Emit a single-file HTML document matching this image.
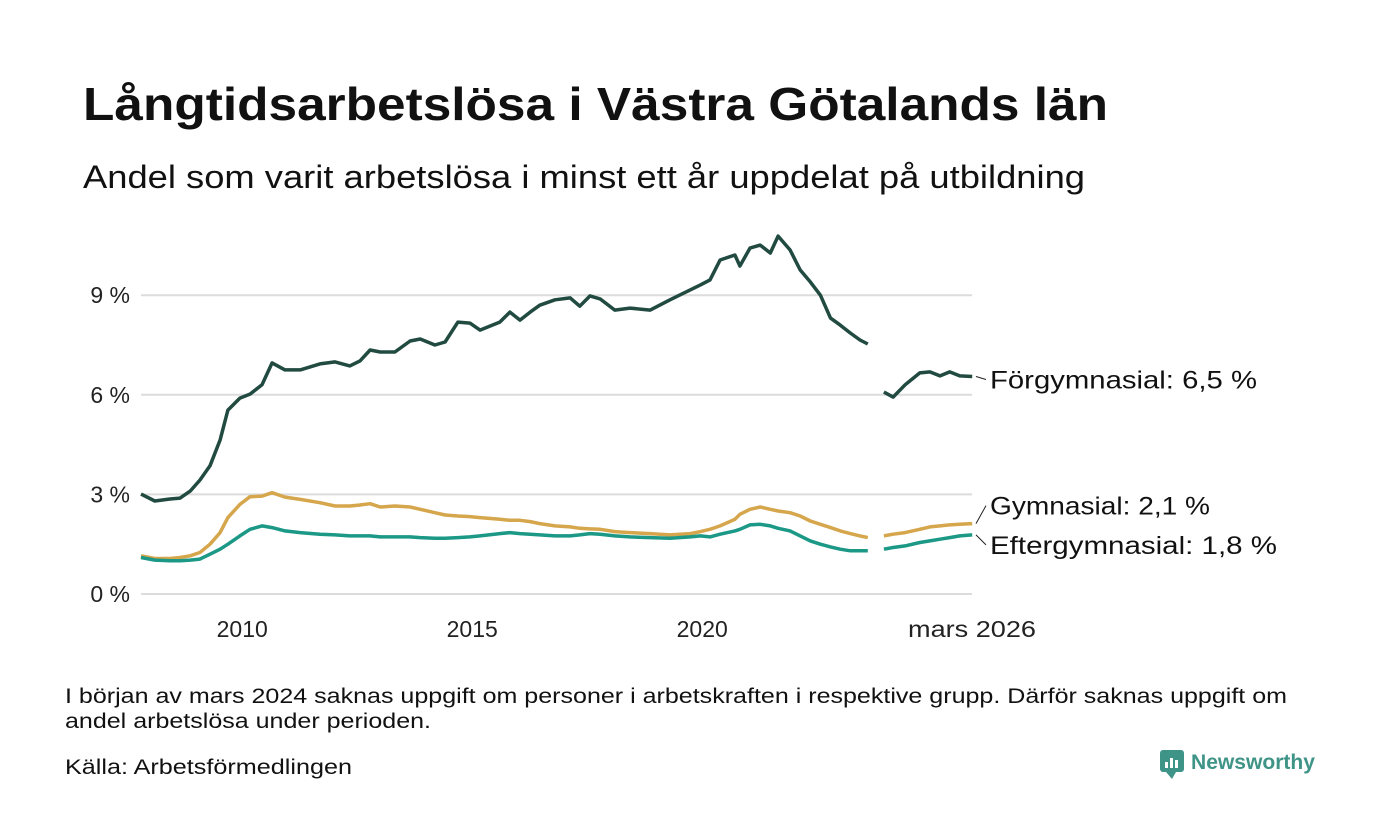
<!DOCTYPE html>
<html><head><meta charset="utf-8"><style>
body{margin:0;background:#fff}
svg{display:block;font-family:"Liberation Sans",sans-serif}
</style></head><body>
<svg width="1400" height="840" viewBox="0 0 1400 840">
<text x="83" y="120" font-size="46" font-weight="bold" fill="#111" textLength="1025" lengthAdjust="spacingAndGlyphs">Långtidsarbetslösa i Västra Götalands län</text>
<text x="83" y="188" font-size="32" fill="#111" textLength="1002" lengthAdjust="spacingAndGlyphs">Andel som varit arbetslösa i minst ett år uppdelat på utbildning</text>
<g id="grid"></g><g id="xaxis"></g><g id="lines"></g><g id="labels"></g>
<text x="65" y="703" font-size="21" fill="#111" textLength="1222" lengthAdjust="spacingAndGlyphs">I början av mars 2024 saknas uppgift om personer i arbetskraften i respektive grupp. Därför saknas uppgift om</text>
<text x="65" y="728" font-size="21" fill="#111" textLength="366" lengthAdjust="spacingAndGlyphs">andel arbetslösa under perioden.</text>
<text x="65" y="774" font-size="21" fill="#111" textLength="287" lengthAdjust="spacingAndGlyphs">Källa: Arbetsförmedlingen</text>
<g>
<rect x="1160" y="750" width="24" height="22" rx="3" fill="#3f9488"/>
<path d="M1166 772 L1172 779 L1176 772Z" fill="#3f9488"/>
<rect x="1165" y="762" width="3" height="6" fill="#fff"/><rect x="1170" y="758" width="3" height="10" fill="#fff"/><rect x="1175" y="760" width="3" height="8" fill="#fff"/>
<text x="1191" y="769" font-size="21" font-weight="bold" fill="#3f9488" textLength="124" lengthAdjust="spacingAndGlyphs">Newsworthy</text>
</g>
</svg>
<script>
const yTicks=[0,3,6,9];
const yTickLabels=["0 %","3 %","6 %","9 %"];
const xTicks=[2010,2015,2020,2026.17];
const xTickLabels=["2010","2015","2020","mars 2026"];
const years=[2007.80,2008.10,2008.43,2008.65,2008.87,2009.08,2009.30,2009.52,2009.69,2009.95,2010.17,2010.43,2010.65,2010.93,2011.26,2011.69,2012.02,2012.34,2012.56,2012.78,2013.00,2013.32,2013.65,2013.87,2014.19,2014.41,2014.69,2014.95,2015.17,2015.60,2015.82,2016.04,2016.26,2016.47,2016.80,2017.13,2017.34,2017.56,2017.78,2018.10,2018.43,2018.87,2019.30,2019.74,2019.96,2020.17,2020.39,2020.71,2020.82,2021.04,2021.26,2021.48,2021.65,2021.91,2022.13,2022.35,2022.57,2022.79,2023.00,2023.22,2023.43,2023.60,null,2023.95,2024.15,2024.41,2024.73,2024.95,2025.17,2025.38,2025.60,2025.87];
const forgymnasial=[3.01,2.80,2.86,2.89,3.10,3.43,3.86,4.64,5.54,5.90,6.02,6.30,6.96,6.75,6.75,6.93,6.99,6.87,7.02,7.35,7.29,7.29,7.62,7.68,7.50,7.59,8.19,8.16,7.95,8.19,8.49,8.25,8.49,8.70,8.86,8.92,8.67,8.98,8.89,8.55,8.61,8.55,8.86,9.16,9.31,9.46,10.06,10.21,9.88,10.42,10.51,10.27,10.78,10.36,9.76,9.40,9.0,8.31,8.10,7.86,7.65,7.53,null,6.08,5.93,6.30,6.66,6.69,6.57,6.69,6.57,6.55];
const gymnasial=[1.15,1.07,1.07,1.10,1.15,1.25,1.50,1.85,2.3,2.7,2.93,2.95,3.05,2.92,2.85,2.75,2.65,2.65,2.68,2.72,2.62,2.65,2.62,2.55,2.45,2.38,2.35,2.33,2.30,2.25,2.22,2.22,2.18,2.12,2.05,2.02,1.98,1.96,1.95,1.88,1.85,1.82,1.78,1.82,1.88,1.95,2.05,2.25,2.4,2.55,2.62,2.55,2.5,2.45,2.35,2.2,2.1,2.0,1.9,1.82,1.75,1.7,null,1.75,1.8,1.85,1.95,2.02,2.05,2.08,2.1,2.12];
const eftergymnasial=[1.1,1.02,1.0,1.0,1.02,1.05,1.2,1.35,1.5,1.75,1.95,2.05,2.0,1.9,1.85,1.8,1.78,1.75,1.75,1.75,1.72,1.72,1.72,1.7,1.68,1.68,1.7,1.72,1.75,1.82,1.85,1.82,1.8,1.78,1.75,1.75,1.78,1.82,1.8,1.75,1.72,1.7,1.68,1.72,1.75,1.72,1.8,1.9,1.95,2.08,2.1,2.05,1.98,1.9,1.75,1.6,1.5,1.42,1.35,1.3,1.3,1.3,null,1.35,1.4,1.45,1.55,1.6,1.65,1.7,1.75,1.78];
const seriesNames=["Förgymnasial","Gymnasial","Eftergymnasial"];
const seriesLabels=["Förgymnasial: 6,5 %","Gymnasial: 2,1 %","Eftergymnasial: 1,8 %"];
const NS="http://www.w3.org/2000/svg";
const x=v=>141+(v-2007.8)*46;
const y=v=>594-v*33.2;
function mk(tag,attrs,parent){const e=document.createElementNS(NS,tag);for(const k in attrs)e.setAttribute(k,attrs[k]);document.getElementById(parent).appendChild(e);return e;}
yTicks.forEach((t,i)=>{
 const l=mk('line',{x1:141,x2:972,y1:y(t),y2:y(t),stroke:'#dcdcdc','stroke-width':2},'grid');
 
 
 const tx=mk('text',{x:130,y:y(t)+8,'font-size':23,'text-anchor':'end',fill:'#222'},'grid');
 tx.textContent=yTickLabels[i];
 
 
});
xTicks.forEach((t,i)=>{
 const px=Math.min(x(t),972);
 const tx=mk('text',{x:px,y:637,'font-size':23,'text-anchor':'middle',fill:'#222'},'xaxis');
 tx.textContent=xTickLabels[i];
 if(i==3){tx.setAttribute('textLength',128);tx.setAttribute('lengthAdjust','spacingAndGlyphs');}
 
 
});
const data=[forgymnasial,gymnasial,eftergymnasial];
const colors=["#214a40","#d5a64c","#1b9886"];
data.forEach((s,k)=>{
 let d="",pen=false;
 s.forEach((v,i)=>{ if(v===null||years[i]===null){pen=false;return;} d+=(pen?"L":"M")+x(years[i]).toFixed(1)+" "+y(v).toFixed(1)+" "; pen=true;});
 const p=mk('path',{d:d,fill:'none',stroke:colors[k],'stroke-width':3.5,'stroke-linejoin':'round'},'lines');
 
 
});
const lastY=data.map(s=>y(s[s.length-1]));
const labelY=[lastY[0]+3,lastY[1]-18,lastY[2]+10];
const labelW=[267,220,287];
labelY.forEach((ly,k)=>{
 const l=mk('line',{x1:976,y1:lastY[k],x2:986,y2:ly,stroke:'#222','stroke-width':1},'labels');
 
 
 const t=mk('text',{x:990,y:ly+9,'font-size':25,fill:'#111',textLength:labelW[k],lengthAdjust:'spacingAndGlyphs'},'labels');
 t.textContent=seriesLabels[k];
 
 
});
</script>
</body></html>
